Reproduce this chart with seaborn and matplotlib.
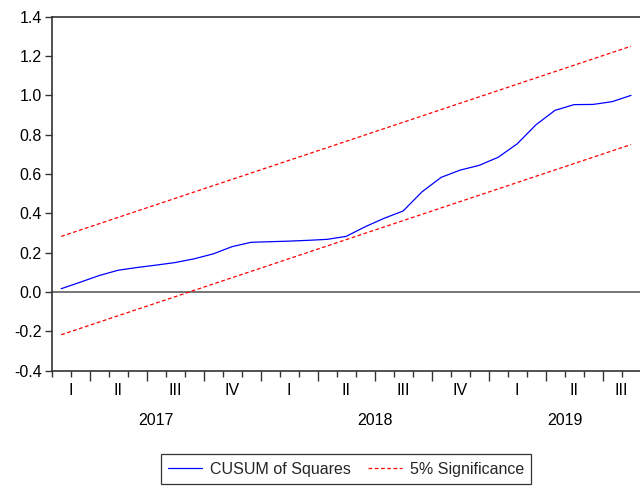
import matplotlib
matplotlib.use("Agg")
import pandas as pd
import matplotlib.pyplot as plt
import seaborn as sns

# DATA
months = pd.period_range("2017-02", "2019-08", freq="M")
cusum_sq = [0.017, 0.050, 0.084, 0.111, 0.125, 0.137, 0.150, 0.169, 0.194, 0.231,
            0.253, 0.256, 0.259, 0.263, 0.268, 0.283, 0.332, 0.375, 0.412, 0.510,
            0.583, 0.620, 0.644, 0.685, 0.753, 0.851, 0.924, 0.953, 0.954, 0.968,
            1.000]
# 5% significance bounds are straight lines, read at first and last month
bound_months = pd.PeriodIndex(["2017-02", "2019-08"], freq="M")
upper_5pct = [0.283, 1.250]
lower_5pct = [-0.217, 0.750]
quarter_names = ["I", "II", "III", "IV"]

start = months[0]
def pos(p):
    return (p - start).n + 0.5

df = pd.DataFrame({"x": [pos(p) for p in months], "CUSUM of Squares": cusum_sq})
bounds = pd.DataFrame({"x": [pos(p) for p in bound_months],
                       "upper": upper_5pct, "lower": lower_5pct})

sns.set_style("white")
plt.rcParams["font.family"] = ["Liberation Sans", "DejaVu Sans"]
FS = 11.5

fig = plt.figure(figsize=(6.4, 4.86), dpi=100)
ax = fig.add_axes([0.0808, 0.2372, 0.92, 0.7284])

ax.axhline(0, color="#505050", lw=1.1, zorder=1)
sns.lineplot(data=df, x="x", y="CUSUM of Squares", ax=ax, color="#0000ff", lw=0.9,
             label="CUSUM of Squares", legend=False)
sns.lineplot(data=bounds, x="x", y="upper", ax=ax, color="#ff0000", lw=0.9,
             label="5% Significance", legend=False)
sns.lineplot(data=bounds, x="x", y="lower", ax=ax, color="#ff0000", lw=0.9, legend=False)
for line in ax.lines[-2:]:
    line.set_dashes([3, 2])

n = len(months)
ax.set_xlim(0, n)
ax.set_ylim(-0.4, 1.4)
ax.set_yticks([-0.4, -0.2, 0.0, 0.2, 0.4, 0.6, 0.8, 1.0, 1.2, 1.4])
ax.set_yticklabels([f"{v:.1f}" for v in ax.get_yticks()])
ax.set_xlabel("")
ax.set_ylabel("")

# spines
for s in ["left", "bottom", "top"]:
    ax.spines[s].set_color("#333333")
    ax.spines[s].set_linewidth(1.2)
ax.spines["right"].set_visible(False)

# month ticks (short) and quarter ticks (long)
edges = list(range(0, n + 1))
quarter_edges = [i for i in edges if (start + i).month in (1, 4, 7, 10)]
ax.set_xticks([i for i in edges if i not in quarter_edges], minor=True)
ax.set_xticks(quarter_edges)
ax.set_xticklabels([])
ax.tick_params(axis="x", which="minor", length=4, width=1, color="#333333", direction="out", bottom=True)
ax.tick_params(axis="x", which="major", length=7, width=1, color="#333333", direction="out", bottom=True)
ax.tick_params(axis="y", length=5, width=1, color="#333333", direction="out", left=True,
               labelsize=FS, labelcolor="black", pad=2)

# quarter and year labels
trans = ax.get_xaxis_transform()
qtrs = sorted(set((p.year, p.quarter) for p in months))
for (yr, q) in qtrs:
    idx = [i for i, p in enumerate(months) if p.year == yr and p.quarter == q]
    c = (idx[0] + idx[-1] + 1) / 2
    ax.text(c, -0.0545, quarter_names[q - 1], transform=trans, ha="center", va="center",
            fontsize=FS, color="black")
for yr in sorted(set(p.year for p in months)):
    idx = [i for i, p in enumerate(months) if p.year == yr]
    c = (idx[0] + idx[-1] + 1) / 2
    ax.text(c, -0.142, str(yr), transform=trans, ha="center", va="center",
            fontsize=FS, color="black")

handles = ax.lines[1:3]
leg = fig.legend(handles, ["CUSUM of Squares", "5% Significance"], loc="center",
                 bbox_to_anchor=(346 / 640, 1 - 469 / 486), ncol=2, frameon=True,
                 fancybox=False, edgecolor="black", handlelength=2.1, columnspacing=1.1,
                 handletextpad=0.5, borderpad=0.45, borderaxespad=0, fontsize=FS)
leg.get_frame().set_linewidth(0.9)

fig.savefig("out.png", dpi=100)
